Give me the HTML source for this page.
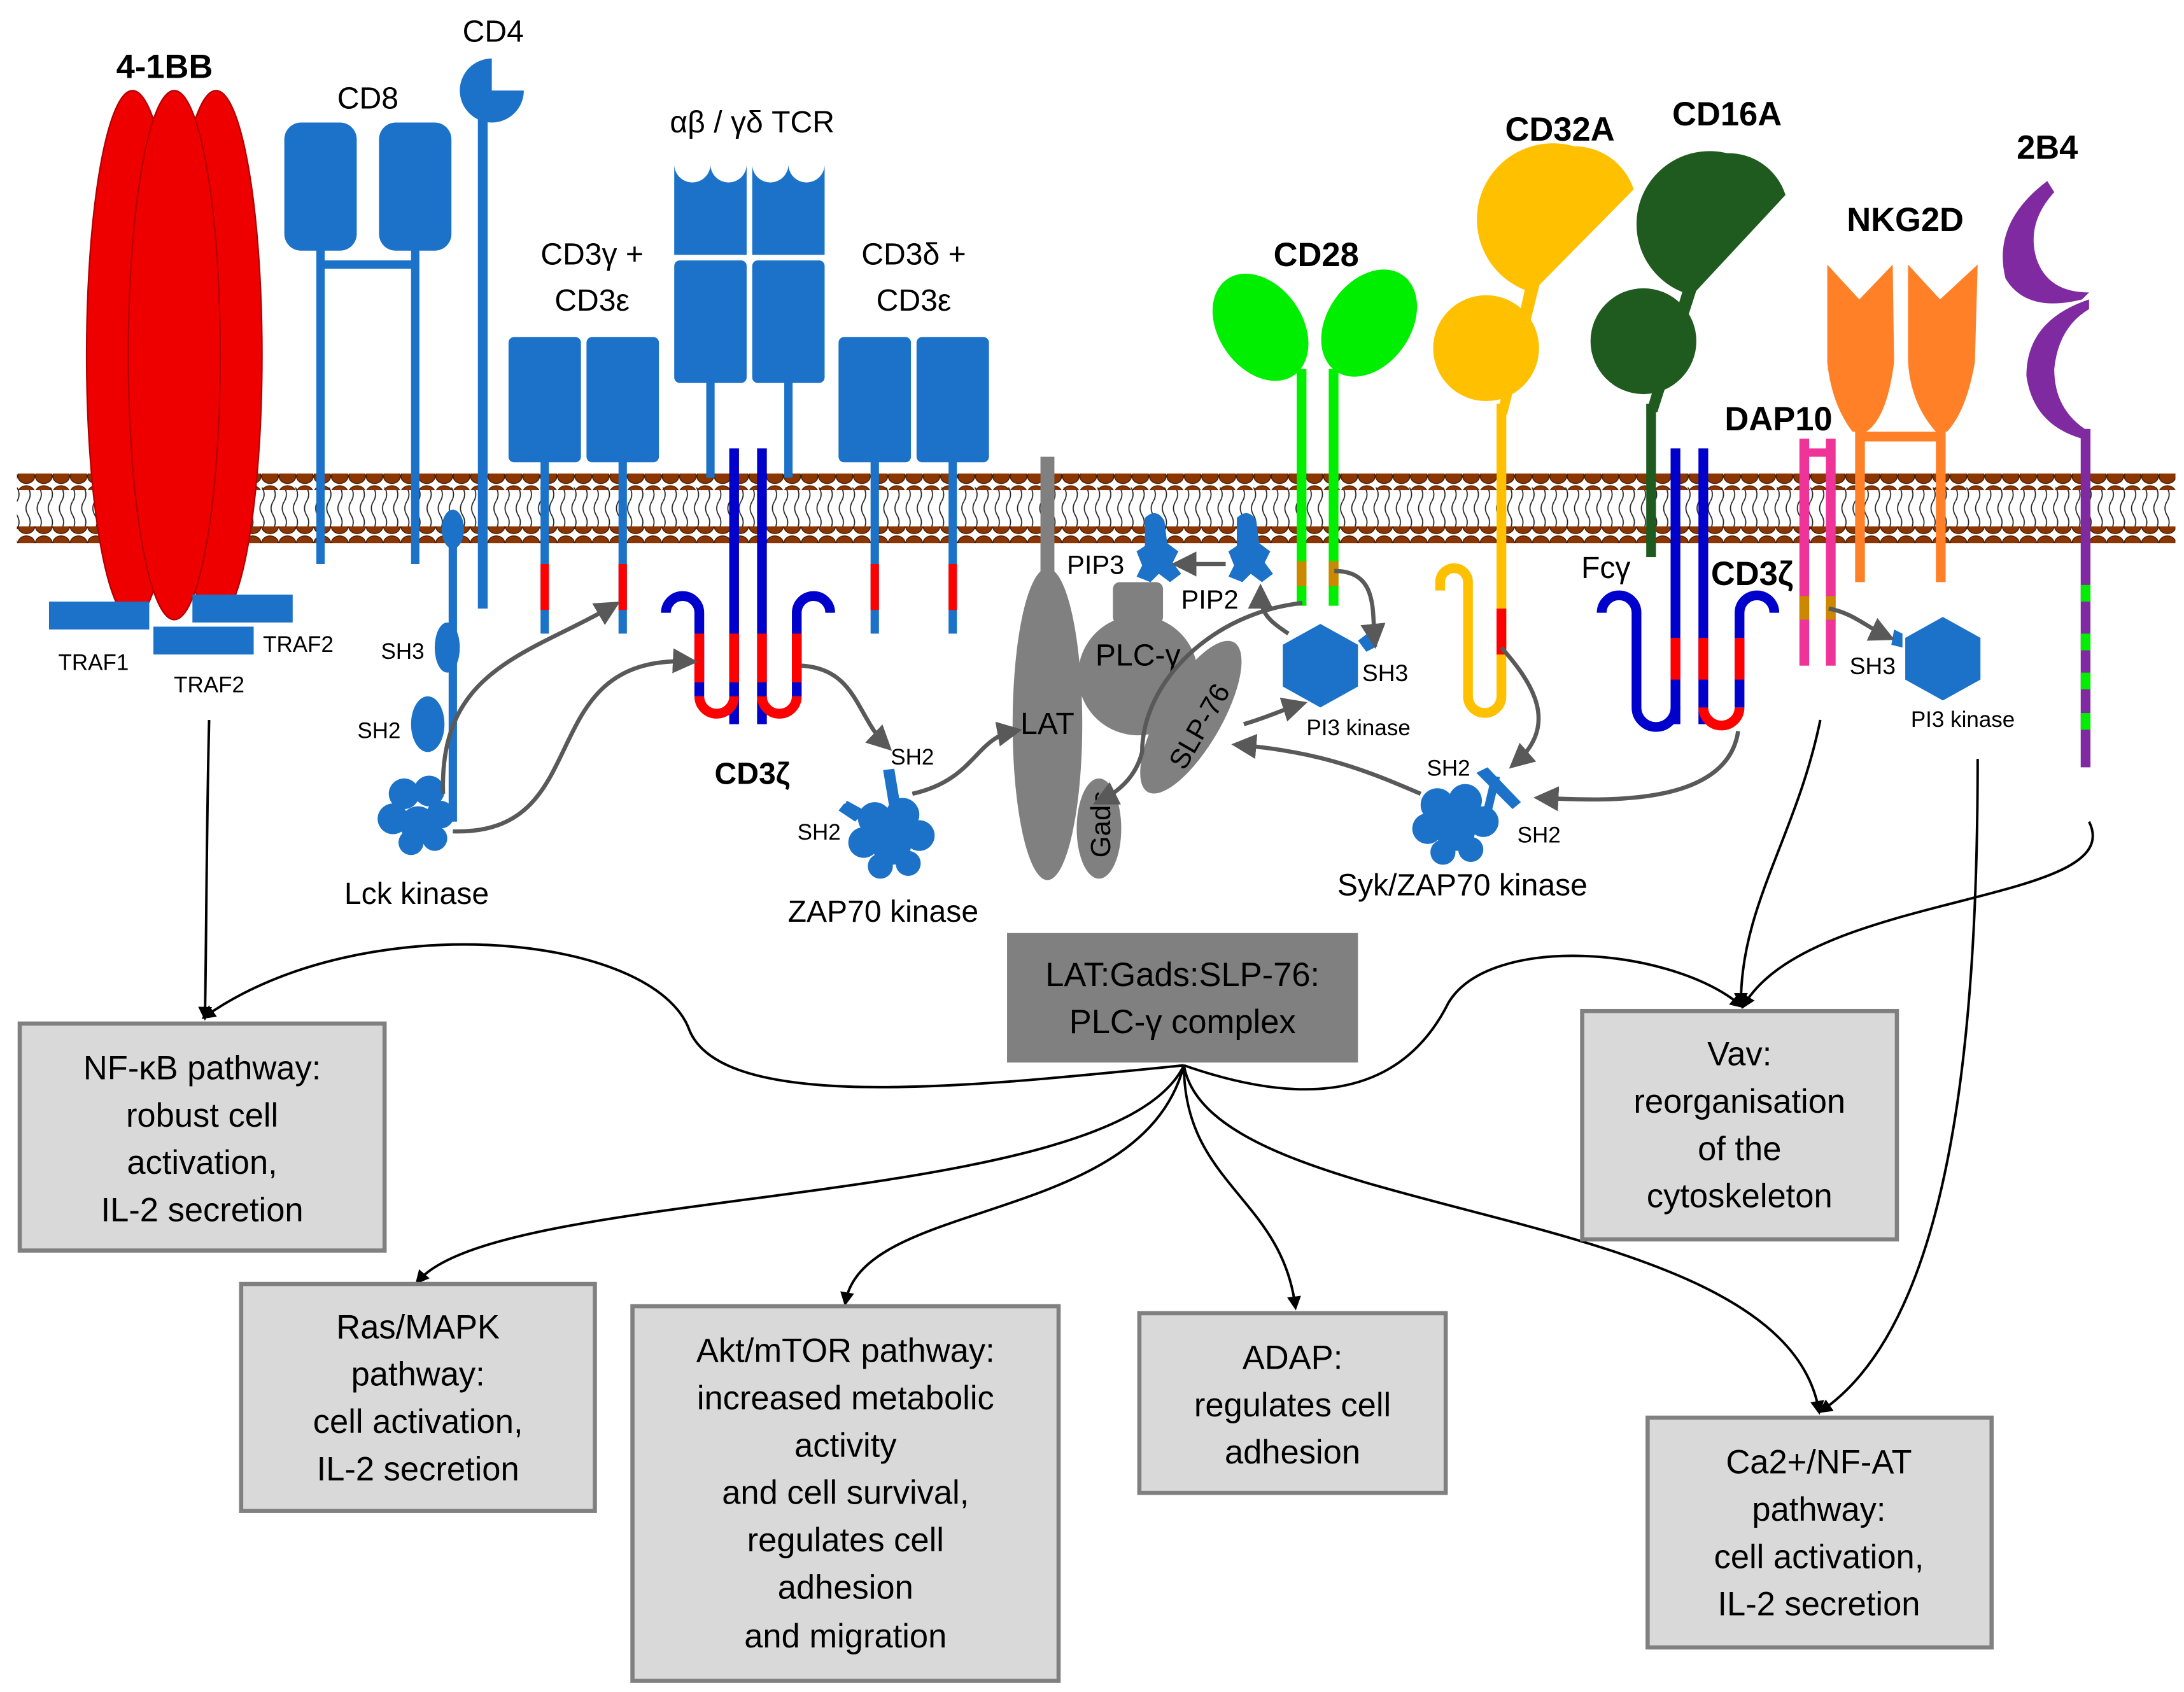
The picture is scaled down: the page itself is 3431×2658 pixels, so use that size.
<!DOCTYPE html>
<html><head><meta charset="utf-8"><style>
html,body{margin:0;padding:0;background:#fff}
svg{display:block}
text{font-family:"Liberation Sans",sans-serif}
</style></head><body>
<svg width="3431" height="2658" viewBox="0 0 1568 1215" xmlns="http://www.w3.org/2000/svg">
<defs>
<pattern id="tails" x="0" y="0" width="8" height="20" patternUnits="userSpaceOnUse">
<path d="M4,0 q-3,5 0,10 q3,5 0,10" fill="none" stroke="#222" stroke-width="0.8"/>
</pattern>
<pattern id="heads" x="0" y="0" width="12.5" height="12" patternUnits="userSpaceOnUse">
<ellipse cx="6.25" cy="6" rx="6" ry="5.2" fill="#8b3500" stroke="#3a1500" stroke-width="0.6"/>
</pattern>
<marker id="ga" markerWidth="6" markerHeight="6" refX="4" refY="3" orient="auto" markerUnits="strokeWidth">
<path d="M0,0 L6,3 L0,6 z" fill="#595959"/></marker>
<marker id="ba" markerWidth="10" markerHeight="10" refX="7" refY="5" orient="auto" markerUnits="userSpaceOnUse">
<path d="M0,0 L10,5 L0,10 z" fill="#000"/></marker>
</defs>

<!-- membrane -->
<rect x="12" y="350" width="1550" height="30" fill="url(#tails)"/>
<rect x="12" y="340" width="1550" height="12" fill="url(#heads)"/>
<rect x="12" y="378" width="1550" height="12" fill="url(#heads)"/>

<!-- 4-1BB -->
<g fill="#ee0000" stroke="#b00000" stroke-width="1">
<ellipse cx="95" cy="255" rx="33" ry="190"/>
<ellipse cx="155" cy="255" rx="33" ry="190"/>
<ellipse cx="125" cy="255" rx="33" ry="190"/>
</g>
<text x="118" y="56" font-size="24" font-weight="bold" text-anchor="middle">4-1BB</text>
<g fill="#1b72c8">
<rect x="35" y="432" width="72" height="20"/>
<rect x="138" y="427" width="72" height="20"/>
<rect x="110" y="450" width="72" height="20"/>
</g>
<g font-size="16" text-anchor="middle">
<text x="67" y="481">TRAF1</text><text x="214" y="468">TRAF2</text><text x="150" y="497">TRAF2</text>
</g>

<g fill="#1b72c8">
<rect x="204" y="88" width="52" height="92" rx="12"/>
<rect x="272" y="88" width="52" height="92" rx="12"/>
<rect x="227" y="178" width="6" height="227"/>
<rect x="295" y="178" width="6" height="227"/>
<rect x="230" y="187" width="68" height="6"/>
<rect x="343" y="65" width="7" height="372"/>
<path d="M353,65 L376,65 A23,23 0 1 1 353,42 Z"/>
<rect x="365" y="242" width="52" height="90" rx="4"/>
<rect x="421" y="242" width="52" height="90" rx="4"/>
<rect x="388" y="330" width="6" height="125"/>
<rect x="444" y="330" width="6" height="125"/>
<path d="M484,118 a13,13 0 0 0 26,0 a13,13 0 0 0 26,0 v65 h-52 z"/>
<path d="M540,118 a13,13 0 0 0 26,0 a13,13 0 0 0 26,0 v65 h-52 z"/>
<rect x="484" y="187" width="52" height="88" rx="4"/>
<rect x="540" y="187" width="52" height="88" rx="4"/>
<rect x="507" y="273" width="6" height="70"/>
<rect x="563" y="273" width="6" height="70"/>
<rect x="602" y="242" width="52" height="90" rx="4"/>
<rect x="658" y="242" width="52" height="90" rx="4"/>
<rect x="625" y="330" width="6" height="125"/>
<rect x="681" y="330" width="6" height="125"/>
</g>
<g fill="#ff0000">
<rect x="388" y="405" width="6" height="33"/><rect x="444" y="405" width="6" height="33"/>
<rect x="625" y="405" width="6" height="33"/><rect x="681" y="405" width="6" height="33"/>
</g>
<text x="264" y="78" font-size="22" text-anchor="middle">CD8</text>
<text x="354" y="30" font-size="22" text-anchor="middle">CD4</text>
<text x="425" y="190" font-size="22" text-anchor="middle">CD3γ +</text>
<text x="425" y="223" font-size="22" text-anchor="middle">CD3ε</text>
<text x="540" y="95" font-size="22" text-anchor="middle">αβ / γδ TCR</text>
<text x="656" y="190" font-size="22" text-anchor="middle">CD3δ +</text>
<text x="656" y="223" font-size="22" text-anchor="middle">CD3ε</text>

<g fill="none" stroke-width="7">
<path d="M527,322 V520" stroke="#0000cc"/><path d="M547,322 V520" stroke="#0000cc"/>
<path d="M527,455 V490 M547,455 V490" stroke="#ff0000"/>
<path d="M478,440 a12,12 0 0 1 24,0 V500" stroke="#0000cc"/>
<path d="M502,455 V490" stroke="#ff0000"/>
<path d="M502,500 a12.5,12.5 0 0 0 25,0" stroke="#ff0000"/>
<path d="M547,500 a12.5,12.5 0 0 0 25,0" stroke="#ff0000"/>
<path d="M572,500 V440 a12,12 0 0 1 24,0" stroke="#0000cc"/>
<path d="M572,455 V490" stroke="#ff0000"/>
</g>
<text x="540" y="563" font-size="22" font-weight="bold" text-anchor="middle">CD3ζ</text>

<g fill="#1b72c8">
<rect x="322" y="370" width="6" height="220"/>
<ellipse cx="325" cy="380" rx="8" ry="14"/>
<ellipse cx="321" cy="465" rx="9" ry="18"/>
<ellipse cx="307" cy="520" rx="12" ry="20"/>
<circle cx="290" cy="570" r="11"/><circle cx="308" cy="568" r="11"/><circle cx="282" cy="588" r="11"/>
<circle cx="300" cy="592" r="13"/><circle cx="316" cy="585" r="10"/><circle cx="295" cy="605" r="9"/><circle cx="312" cy="602" r="9"/>
</g>
<text x="289" y="473" font-size="16" text-anchor="middle">SH3</text>
<text x="272" y="530" font-size="16" text-anchor="middle">SH2</text>
<text x="299" y="649" font-size="22" text-anchor="middle">Lck kinase</text>

<g fill="#1b72c8">
<circle cx="628" cy="588" r="12"/><circle cx="648" cy="585" r="12"/><circle cx="620" cy="605" r="11"/>
<circle cx="640" cy="607" r="14"/><circle cx="660" cy="600" r="11"/><circle cx="632" cy="622" r="9"/><circle cx="652" cy="620" r="9"/>
<path d="M608,575 l22,12 -4,7 -22,-12z"/><path d="M618,585 l-12,-8 -4,5 12,8z"/>
<path d="M642,552 l5,30 -8,1 -5,-30z"/>
</g>
<text x="655" y="549" font-size="16" text-anchor="middle">SH2</text>
<text x="588" y="603" font-size="16" text-anchor="middle">SH2</text>
<text x="634" y="662" font-size="22" text-anchor="middle">ZAP70 kinase</text>

<g fill="#808080">
<rect x="747" y="328" width="10" height="110"/>
<ellipse cx="752" cy="520" rx="25" ry="112"/>
<rect x="799" y="418" width="36" height="30" rx="5"/>
<circle cx="817" cy="485" r="43"/>
<ellipse cx="789" cy="595" rx="16" ry="36"/>
<ellipse cx="855" cy="515" rx="22" ry="62" transform="rotate(30 855 515)"/>
</g>
<text x="752" y="527" font-size="22" text-anchor="middle">LAT</text>
<text x="817" y="478" font-size="22" text-anchor="middle">PLC-γ</text>
<text x="0" y="0" font-size="20" text-anchor="middle" transform="translate(797,592) rotate(-90)">Gads</text>
<text x="0" y="0" font-size="20" text-anchor="middle" transform="translate(867,525) rotate(-60)">SLP-76</text>

<g fill="#1b72c8">
<path d="M822,372 q8,-8 14,2 l2,16 8,6 -4,8 6,8 -8,6 -8,-6 -6,6 -10,-4 4,-8 -4,-10 6,-4z"/>
<path d="M888,372 q8,-8 14,2 l2,16 8,6 -4,8 6,8 -8,6 -8,-6 -6,6 -10,-4 4,-8 -4,-10 6,-4z"/>
</g>
<text x="766" y="412" font-size="19">PIP3</text>
<text x="848" y="437" font-size="19">PIP2</text>

<g fill="#00ee00">
<ellipse cx="905" cy="235" rx="30" ry="42" transform="rotate(-35 905 235)"/>
<ellipse cx="983" cy="232" rx="30" ry="42" transform="rotate(35 983 232)"/>
<rect x="931" y="265" width="7" height="170"/>
<rect x="954" y="265" width="7" height="170"/>
</g>
<rect x="931" y="403" width="7" height="18" fill="#cc8800"/>
<rect x="954" y="403" width="7" height="18" fill="#cc8800"/>
<text x="945" y="191" font-size="24" font-weight="bold" text-anchor="middle">CD28</text>
<polygon points="948,448 975,463 975,493 948,508 921,493 921,463" fill="#1b72c8"/>
<path d="M975,460 l8,-6 6,10 -8,4z" fill="#1b72c8"/>
<text x="978" y="489" font-size="17">SH3</text>
<text x="938" y="528" font-size="16">PI3 kinase</text>

<g fill="#ffc000">
<path d="M1130,150 m0,-45 a45,45 0 0 1 43,31 L1100,210 a45,45 0 0 1 30,-105z"/>
<circle cx="1067" cy="250" r="38"/>
<path d="M1107,198 l-10,0 -22,100 7,0z"/>
</g>
<g fill="none" stroke-width="7">
<path d="M1078,290 V500 a12,12 0 0 1 -24,0 V418 a10,10 0 0 0 -20,0 v6" stroke="#ffc000"/>
<path d="M1078,437 V470" stroke="#ff0000"/>
</g>
<text x="1120" y="101" font-size="24" font-weight="bold" text-anchor="middle">CD32A</text>

<g fill="#1f5a1e">
<path d="M1240,153 m0,-43 a43,43 0 0 1 42,30 L1215,212 a43,43 0 0 1 25,-102z"/>
<circle cx="1180" cy="245" r="38"/>
<path d="M1222,196 l-10,0 -30,100 8,0z"/>
<rect x="1182" y="290" width="7" height="110"/>
</g>
<text x="1240" y="90" font-size="24" font-weight="bold" text-anchor="middle">CD16A</text>

<g fill="none" stroke-width="7">
<path d="M1203,322 V520 M1223,322 V520" stroke="#0000cc"/>
<path d="M1203,458 V488 M1223,458 V488" stroke="#ff0000"/>
<path d="M1150,440 a12,12 0 0 1 25,0 V508 a14,14 0 0 0 28,0" stroke="#0000cc"/>
<path d="M1223,508 a13,13 0 0 0 26,0" stroke="#ff0000"/>
<path d="M1249,508 V440 a12,12 0 0 1 25,0" stroke="#0000cc"/>
<path d="M1249,458 V488" stroke="#ff0000"/>
</g>
<text x="1153" y="415" font-size="22" text-anchor="middle">Fcγ</text>
<text x="1258" y="420" font-size="24" font-weight="bold" text-anchor="middle">CD3ζ</text>

<g fill="#ee3399">
<rect x="1292" y="315" width="7" height="163"/><rect x="1311" y="315" width="7" height="163"/>
<rect x="1296" y="322" width="18" height="6"/>
</g>
<rect x="1292" y="428" width="7" height="17" fill="#cc8800"/><rect x="1311" y="428" width="7" height="17" fill="#cc8800"/>
<text x="1277" y="309" font-size="24" font-weight="bold" text-anchor="middle">DAP10</text>
<polygon points="1395,443 1422,458 1422,488 1395,503 1368,488 1368,458" fill="#1b72c8"/>
<path d="M1360,452 l6,3 0,10 -8,-2z" fill="#1b72c8"/>
<text x="1328" y="484" font-size="17">SH3</text>
<text x="1372" y="522" font-size="16">PI3 kinase</text>

<g fill="#ff8027">
<path d="M1312,190 L1335,215 L1359,190 L1360,260 Q1355,300 1340,310 L1330,310 Q1315,290 1312,260z"/>
<path d="M1370,190 L1393,215 L1420,190 L1418,260 Q1412,295 1398,310 L1390,310 Q1372,290 1370,260z"/>
<rect x="1332" y="308" width="7" height="110"/><rect x="1390" y="308" width="7" height="110"/>
<rect x="1335" y="310" width="58" height="7"/>
</g>
<text x="1368" y="166" font-size="24" font-weight="bold" text-anchor="middle">NKG2D</text>

<g fill="#7f2aa0">
<path d="M1470,130 Q1430,160 1440,200 Q1455,225 1495,215 L1500,210 Q1470,210 1462,185 Q1455,160 1475,138z"/>
<path d="M1500,215 Q1455,230 1455,270 Q1460,305 1495,315 L1500,310 Q1475,295 1475,265 Q1478,235 1500,222z"/>
<rect x="1494" y="308" width="7" height="243"/>
</g>
<g fill="#00ee00">
<rect x="1494" y="420" width="7" height="12"/><rect x="1494" y="455" width="7" height="12"/>
<rect x="1494" y="483" width="7" height="12"/><rect x="1494" y="512" width="7" height="12"/>
</g>
<text x="1470" y="114" font-size="24" font-weight="bold" text-anchor="middle">2B4</text>

<g fill="#1b72c8">
<circle cx="1032" cy="578" r="12"/><circle cx="1052" cy="575" r="12"/><circle cx="1025" cy="595" r="11"/>
<circle cx="1045" cy="597" r="14"/><circle cx="1065" cy="590" r="11"/><circle cx="1036" cy="612" r="9"/><circle cx="1056" cy="610" r="9"/>
<path d="M1060,555 l8,-4 24,25 -6,5z"/><path d="M1065,582 l6,-25 6,1 -6,25z"/>
</g>
<text x="1040" y="557" font-size="16" text-anchor="middle">SH2</text>
<text x="1105" y="605" font-size="16" text-anchor="middle">SH2</text>
<text x="1050" y="643" font-size="22" text-anchor="middle">Syk/ZAP70 kinase</text>

<g fill="none" stroke="#595959" stroke-width="3" marker-end="url(#ga)">
<path d="M318,570 C315,480 380,470 440,435"/>
<path d="M325,597 C430,600 380,470 495,475"/>
<path d="M575,478 C615,480 615,515 636,535"/>
<path d="M655,570 C700,560 700,530 728,525"/>
<path d="M935,433 C870,440 820,490 820,540 C815,560 800,570 790,575"/>
<path d="M925,455 C910,445 905,440 905,425"/>
<path d="M958,410 C990,410 985,440 987,460"/>
<path d="M880,405 L847,405"/>
<path d="M893,520 C910,515 920,510 933,506"/>
<path d="M1020,570 C985,555 950,540 890,535"/>
<path d="M1078,465 C1100,490 1120,520 1088,548"/>
<path d="M1248,525 C1240,580 1150,575 1107,573"/>
<path d="M1313,437 C1330,440 1340,450 1355,457"/>
</g>

<g fill="none" stroke="#000" stroke-width="1.8" marker-end="url(#ba)">
<path d="M150,517 C148,600 148,680 147,730"/>
<path d="M850,765 C700,780 520,800 495,740 C470,670 260,650 147,730"/>
<path d="M850,765 C800,870 360,850 300,920"/>
<path d="M850,765 C820,880 620,860 607,935"/>
<path d="M850,765 C850,850 920,860 930,938"/>
<path d="M850,765 C870,880 1280,860 1306,1013"/>
<path d="M850,765 C950,800 1010,780 1040,720 C1070,670 1200,680 1250,722"/>
<path d="M1307,517 C1290,600 1250,650 1250,720"/>
<path d="M1500,590 C1530,650 1300,640 1252,722"/>
<path d="M1420,545 C1420,750 1400,950 1308,1013"/>
</g>

<g fill="#d9d9d9" stroke="#808080" stroke-width="3">
<rect x="14" y="735" width="262" height="163"/>
<rect x="173" y="922" width="254" height="163"/>
<rect x="454" y="938" width="306" height="269"/>
<rect x="818" y="943" width="220" height="129"/>
<rect x="1136" y="726" width="226" height="164"/>
<rect x="1183" y="1018" width="247" height="165"/>
</g>
<rect x="723" y="670" width="252" height="93" fill="#808080"/>
<g font-size="24" text-anchor="middle">
<text x="849" y="708">LAT:Gads:SLP-76:</text><text x="849" y="742">PLC-γ complex</text>
<text x="145" y="775">NF-κB pathway:</text><text x="145" y="809">robust cell</text><text x="145" y="843">activation,</text><text x="145" y="877">IL-2 secretion</text>
<text x="300" y="961">Ras/MAPK</text><text x="300" y="995">pathway:</text><text x="300" y="1029">cell activation,</text><text x="300" y="1063">IL-2 secretion</text>
<text x="607" y="978">Akt/mTOR pathway:</text><text x="607" y="1012">increased metabolic</text><text x="607" y="1046">activity</text><text x="607" y="1080">and cell survival,</text><text x="607" y="1114">regulates cell</text><text x="607" y="1148">adhesion</text><text x="607" y="1183">and migration</text>
<text x="928" y="983">ADAP:</text><text x="928" y="1017">regulates cell</text><text x="928" y="1051">adhesion</text>
<text x="1249" y="765">Vav:</text><text x="1249" y="799">reorganisation</text><text x="1249" y="833">of the</text><text x="1249" y="867">cytoskeleton</text>
<text x="1306" y="1058">Ca2+/NF-AT</text><text x="1306" y="1092">pathway:</text><text x="1306" y="1126">cell activation,</text><text x="1306" y="1160">IL-2 secretion</text>
</g>
</svg>
</body></html>
